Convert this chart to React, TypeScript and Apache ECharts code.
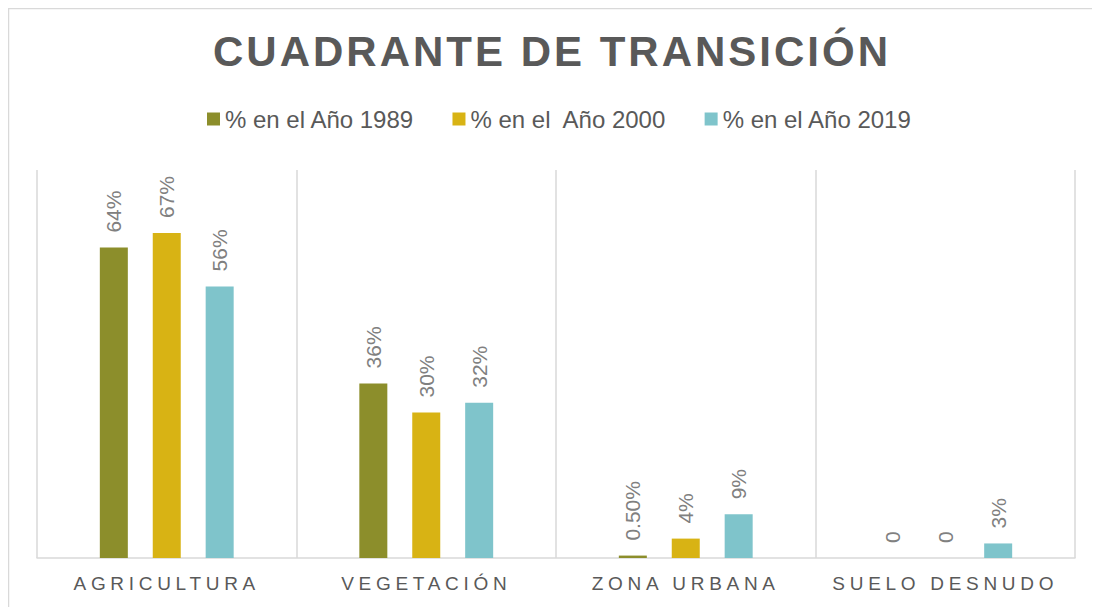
import React, { useEffect, useRef } from "react";
import * as echarts from "echarts";

const titleText = "CUADRANTE DE TRANSICIÓN";
const categories = ["AGRICULTURA", "VEGETACIÓN", "ZONA URBANA", "SUELO DESNUDO"];
const seriesNames = ["% en el Año 1989", "% en el  Año 2000", "% en el Año 2019"];
const values1989 = [64, 36, 0.5, 0];
const values2000 = [67, 30, 4, 0];
const values2019 = [56, 32, 9, 3];
const seriesColors = ["#8C8E2B", "#D8B314", "#7FC4CB"];

const fontFamily = "'Liberation Sans', Arial, sans-serif";

function fmt(v: number): string {
  if (v === 0) return "0";
  if (v < 1) return v.toFixed(2) + "%";
  return Math.round(v) + "%";
}

export default function App() {
  const ref = useRef<HTMLDivElement>(null);
  useEffect(() => {
    if (!ref.current) return;
    const el = ref.current;
    const chart = echarts.init(el, undefined, { renderer: "svg" });
    const data = [values1989, values2000, values2019];
    const option: any = {
      animation: false,
      backgroundColor: "#ffffff",
      title: {
        text: titleText,
        left: 205,
        top: 22,
        padding: 0,
        textStyle: {
          fontFamily,
          fontSize: 42,
          fontWeight: "bold",
          color: "#595959",
        },
      },
      legend: {
        data: seriesNames,
        left: 199,
        top: 99,
        padding: 0,
        itemWidth: 13,
        itemHeight: 13,
        itemGap: 38,
        icon: "rect",
        textStyle: { fontFamily, fontSize: 24, color: "#595959" },
      },
      graphic: [
        {
          type: "rect",
          shape: { x: 0.5, y: 0.5, width: 1500, height: 900 },
          style: { fill: "none", stroke: "#d9d9d9", lineWidth: 1.5 },
          silent: true,
          z: 0,
        },
      ],
      grid: { left: 29, top: 162, width: 1038, height: 388, containLabel: false },
      xAxis: {
        type: "category",
        data: categories,
        boundaryGap: true,
        axisLine: { show: true, lineStyle: { color: "#d9d9d9", width: 1.5 } },
        axisTick: { show: false },
        splitLine: { show: true, showMinLine: true, showMaxLine: true, lineStyle: { color: "#d9d9d9", width: 1.5 } },
        axisLabel: { fontFamily, fontSize: 19, color: "#595959", margin: 16 },
      },
      yAxis: {
        type: "value",
        min: 0,
        max: 80,
        show: false,
        splitLine: { show: false },
      },
      series: seriesNames.map((name, i) => ({
        name,
        type: "bar",
        data: data[i],
        barWidth: 28,
        barGap: "89%",
        itemStyle: { color: seriesColors[i] },
        label: {
          show: true,
          position: "top",
          rotate: 90,
          align: "left",
          verticalAlign: "middle",
          distance: 15,
          fontFamily,
          fontSize: 21,
          color: "#808080",
          formatter: (p: any) => fmt(p.value),
        },
      })),
    };
    chart.setOption(option);
    const applySpacing = () => {
      el.querySelectorAll("text").forEach((t) => {
        const s = (t.textContent || "").trim();
        if (s === titleText) (t as any).style.letterSpacing = "3px";
        else if (categories.indexOf(s) >= 0) (t as any).style.letterSpacing = "4.7px";
      });
    };
    applySpacing();
    chart.on("finished", applySpacing);
    const timer = setTimeout(applySpacing, 50);
    return () => {
      clearTimeout(timer);
      chart.dispose();
    };
  }, []);
  return <div ref={ref} style={{ width: 1092, height: 599 }} />;
}
